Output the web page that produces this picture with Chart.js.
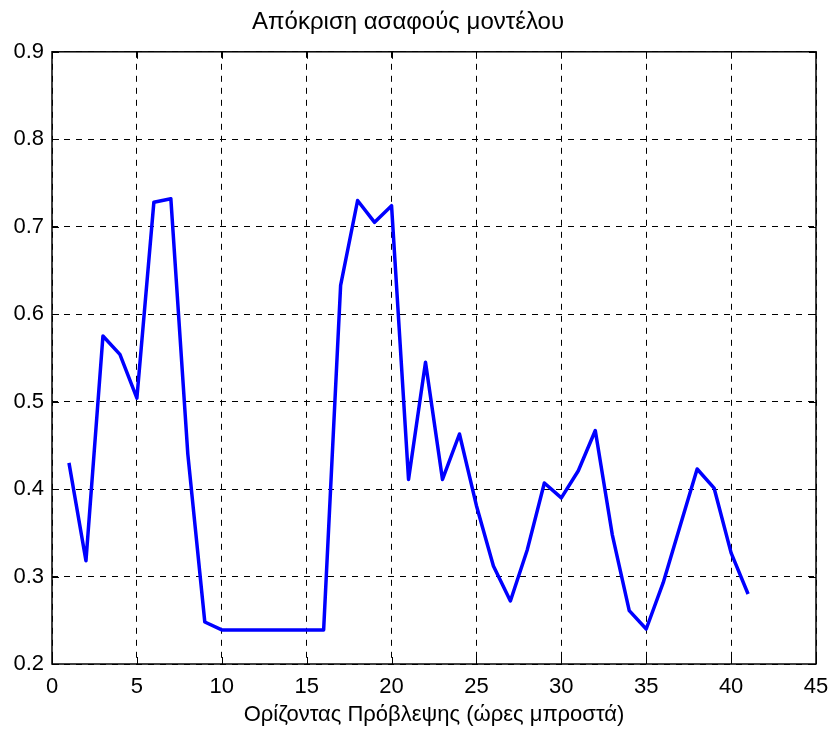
<!DOCTYPE html>
<html>
<head>
<meta charset="utf-8">
<script src="https://cdn.jsdelivr.net/npm/chart.js@4/dist/chart.umd.min.js"></script>
<style>
  html, body { margin: 0; padding: 0; background: #fff; }
  #wrap { width: 831px; height: 731px; }
</style>
</head>
<body>
<div id="wrap"><canvas id="myChart" width="831" height="731"></canvas></div>
<script>
// forecast horizon (hours ahead) and fuzzy model response
var hours = [1, 2, 3, 4, 5, 6, 7, 8, 9, 10, 11, 12, 13, 14, 15, 16, 17, 18, 19, 20, 21,
             22, 23, 24, 25, 26, 27, 28, 29, 30, 31, 32, 33, 34, 35, 36, 37, 38, 39, 40, 41];
var response = [0.430, 0.318, 0.575, 0.554, 0.504, 0.728, 0.732, 0.440, 0.248, 0.239,
                0.239, 0.239, 0.239, 0.239, 0.239, 0.239, 0.633, 0.730, 0.705, 0.724,
                0.411, 0.545, 0.411, 0.463, 0.381, 0.312, 0.272, 0.331, 0.407, 0.390,
                0.421, 0.467, 0.348, 0.261, 0.240, 0.293, 0.358, 0.423, 0.401, 0.327, 0.280];
var xTicks = [0, 5, 10, 15, 20, 25, 30, 35, 40, 45];
var yTicks = [0.2, 0.3, 0.4, 0.5, 0.6, 0.7, 0.8, 0.9];

var points = hours.map(function (h, i) { return { x: h, y: response[i] }; });

var FONT = '"Liberation Sans", Arial, sans-serif';

// solid box round the plot with short inward tick marks on all four sides
var axesBox = {
    id: 'axesBox',
    afterDraw: function (chart) {
        var ctx = chart.ctx, a = chart.chartArea;
        var xs = chart.scales.x, ys = chart.scales.y;
        var len = 7;
        ctx.save();
        ctx.strokeStyle = '#000';
        ctx.lineWidth = 1.5;
        ctx.setLineDash([]);
        ctx.strokeRect(a.left, a.top, a.right - a.left, a.bottom - a.top);
        ctx.lineWidth = 1;
        ctx.beginPath();
        xTicks.forEach(function (t) {
            var px = Math.round(xs.getPixelForValue(t)) + 0.5;
            ctx.moveTo(px, a.bottom); ctx.lineTo(px, a.bottom - len);
            ctx.moveTo(px, a.top); ctx.lineTo(px, a.top + len);
        });
        yTicks.forEach(function (t) {
            var py = Math.round(ys.getPixelForValue(t)) + 0.5;
            ctx.moveTo(a.left, py); ctx.lineTo(a.left + len, py);
            ctx.moveTo(a.right, py); ctx.lineTo(a.right - len, py);
        });
        ctx.stroke();
        ctx.restore();
    }
};

var ctx = document.getElementById('myChart').getContext('2d');
var chart = new Chart(ctx, {
    type: 'line',
    data: {
        datasets: [{
            data: points,
            borderColor: '#0000ff',
            borderWidth: 3.5,
            borderJoinStyle: 'round',
            pointRadius: 0,
            tension: 0,
            fill: false
        }]
    },
    options: {
        responsive: false,
        animation: false,
        layout: { padding: { left: 0, right: 15, top: 0, bottom: 0 } },
        plugins: {
            legend: { display: false },
            tooltip: { enabled: false },
            title: {
                display: true,
                text: 'Απόκριση ασαφούς μοντέλου',
                color: '#000',
                font: { family: FONT, size: 24, weight: 'normal', lineHeight: 1.2 },
                padding: { top: 8, bottom: 15 }
            }
        },
        scales: {
            x: {
                type: 'linear',
                min: 0,
                max: 45,
                afterBuildTicks: function (scale) {
                    scale.ticks = xTicks.map(function (v) { return { value: v }; });
                },
                afterFit: function (scale) {
                    scale.height = 67;
                    scale.paddingRight = 0;
                    scale.paddingLeft = 0;
                },
                grid: { color: '#000', lineWidth: 1, drawTicks: false },
                border: { display: false, dash: [6, 6] },
                ticks: {
                    color: '#000',
                    padding: 10,
                    maxRotation: 0,
                    font: { family: FONT, size: 22 }
                },
                title: {
                    display: true,
                    text: 'Ορίζοντας Πρόβλεψης (ώρες μπροστά)',
                    color: '#000',
                    font: { family: FONT, size: 22, lineHeight: 1.2 },
                    padding: { top: 0, bottom: 3 }
                }
            },
            y: {
                min: 0.2,
                max: 0.9,
                afterBuildTicks: function (scale) {
                    scale.ticks = yTicks.map(function (v) { return { value: v }; });
                },
                afterFit: function (scale) { scale.width = 52; },
                grid: { color: '#000', lineWidth: 1, drawTicks: false },
                border: { display: false, dash: [6, 6] },
                ticks: {
                    color: '#000',
                    padding: 8,
                    font: { family: FONT, size: 22 },
                    callback: function (v) { return Number(v).toFixed(1); }
                }
            }
        }
    },
    plugins: [axesBox]
});
</script>
</body>
</html>
